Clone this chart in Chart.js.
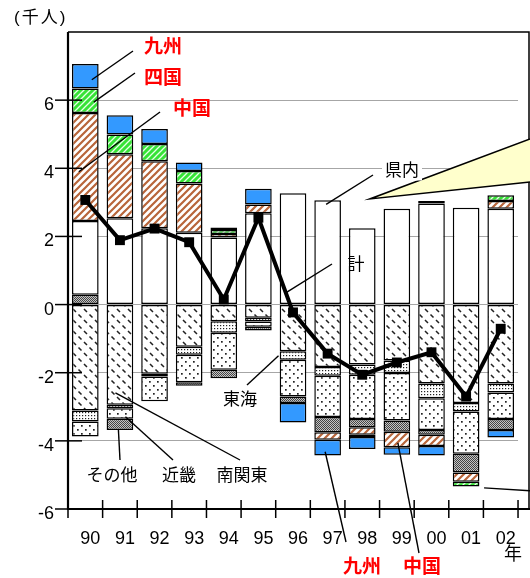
<!DOCTYPE html>
<html>
<head>
<meta charset="utf-8">
<script src="https://cdn.jsdelivr.net/npm/chart.js@4.4.1/dist/chart.umd.min.js"></script>
<style>
  html, body { margin: 0; padding: 0; background: #fff; }
  canvas { display: block; }
</style>
</head>
<body>
<canvas id="chart" width="530" height="578"></canvas>
<script>
// net migration by destination, thousands of people
const years = ['90', '91', '92', '93', '94', '95', '96', '97', '98', '99', '00', '01', '02'];
const minamiKanto = [-3.11, -2.94, -2.03, -1.24, -0.49, -0.39, -1.37, -1.83, -1.76, -1.64, -2.32, -2.89, -2.32];
const tokai = [-0.32, -0.10, -0.08, -0.23, -0.34, -0.11, -0.25, -0.26, -0.30, -0.37, -0.43, -0.25, -0.26];
const kinki = [-0.44, -0.31, -0.73, -0.81, -1.08, -0.15, -1.08, -1.21, -1.30, -1.39, -0.93, -1.24, -0.78];
const sonota = [0.29, -0.33, 0, -0.10, -0.25, -0.11, -0.19, -0.45, -0.24, -0.33, -0.14, -0.55, -0.32];
const kennai = [2.16, 2.53, 2.24, 2.11, 1.97, 2.68, 3.27, 3.06, 2.24, 2.81, 2.97, 2.84, 2.81];
const chugoku = [3.17, 1.88, 1.97, 1.44, 0.10, 0.26, 0, -0.22, -0.22, -0.46, -0.33, -0.27, 0.23];
const shikoku = [0.72, 0.58, 0.50, 0.37, 0.12, 0, 0, 0, -0.07, 0, 0.07, -0.14, 0.17];
const kyushu = [0.72, 0.57, 0.44, 0.25, 0.07, 0.46, -0.57, -0.46, -0.35, -0.22, -0.28, 0, -0.22];
const total = [3.07, 1.89, 2.23, 1.83, 0.15, 2.55, -0.23, -1.44, -2.06, -1.70, -1.40, -2.70, -0.71];
const yTicks = [-6, -4, -2, 0, 2, 4, 6];

const FONT = "'Liberation Sans', 'Noto Sans CJK JP', sans-serif";

function tile(w, h, draw) {
    const c = document.createElement('canvas');
    c.width = w;
    c.height = h;
    draw(c.getContext('2d'));
    return document.createElement('canvas').getContext('2d').createPattern(c, 'repeat');
}

const pat = {
    dash: tile(11, 11, (g) => {
        g.fillStyle = '#fff'; g.fillRect(0, 0, 11, 11);
        g.strokeStyle = '#222'; g.lineWidth = 1.5;
        g.beginPath();
        g.moveTo(1.5, 6.5); g.lineTo(4.5, 9.5);
        g.moveTo(7, 1); g.lineTo(10, 4);
        g.stroke();
    }),
    fine: tile(3, 3, (g) => {
        g.fillStyle = '#fff'; g.fillRect(0, 0, 3, 3);
        g.fillStyle = '#222'; g.fillRect(1, 1, 1.2, 1.2);
    }),
    sparse: tile(8, 8, (g) => {
        g.fillStyle = '#fff'; g.fillRect(0, 0, 8, 8);
        g.fillStyle = '#222';
        g.fillRect(1, 1, 1.7, 1.7);
        g.fillRect(5, 5, 1.7, 1.7);
    }),
    gray: tile(2, 2, (g) => {
        g.fillStyle = '#c4c4c4'; g.fillRect(0, 0, 2, 2);
        g.fillStyle = '#444'; g.fillRect(0, 0, 1, 1); g.fillRect(1, 1, 1, 1);
    }),
    brown: tile(7, 7, (g) => {
        g.fillStyle = '#fff'; g.fillRect(0, 0, 7, 7);
        g.strokeStyle = '#b8653a'; g.lineWidth = 2.2;
        g.beginPath();
        g.moveTo(-1, 8); g.lineTo(8, -1);
        g.moveTo(-1, 1); g.lineTo(1, -1);
        g.moveTo(6, 8); g.lineTo(8, 6);
        g.stroke();
    }),
    green: tile(6, 6, (g) => {
        g.fillStyle = '#36e336'; g.fillRect(0, 0, 6, 6);
        g.strokeStyle = '#e8ffe8'; g.lineWidth = 1.3;
        g.beginPath();
        g.moveTo(-1, 7); g.lineTo(7, -1);
        g.moveTo(-1, 1); g.lineTo(1, -1);
        g.moveTo(5, 7); g.lineTo(7, 5);
        g.stroke();
    }),
};

const segNames = ['南関東', '東海', '近畿', 'その他', '県内', '中国', '四国', '九州'];
const segValues = [minamiKanto, tokai, kinki, sonota, kennai, chugoku, shikoku, kyushu];
const segFills = [pat.dash, pat.fine, pat.sparse, pat.gray, '#fff', pat.brown, pat.green, '#3399ff'];

const datasets = segNames.map((name, k) => ({
    type: 'bar',
    label: name,
    data: segValues[k].map((v) => (v === 0 ? null : v)),
    backgroundColor: segFills[k],
    borderColor: '#000',
    borderWidth: 1.5,
    borderSkipped: false,
    stack: 'move',
    order: 1,
    barPercentage: 0.77,
    categoryPercentage: 1,
}));

datasets.push({
    type: 'line',
    label: '計',
    data: total,
    borderColor: '#000',
    borderWidth: 4,
    pointStyle: 'rect',
    pointRadius: 7,
    pointBackgroundColor: '#000',
    pointBorderWidth: 0,
    stack: 'total',
    order: 0,
    tension: 0,
});

function line(ctx, x1, y1, x2, y2) {
    ctx.beginPath();
    ctx.moveTo(x1, y1);
    ctx.lineTo(x2, y2);
    ctx.stroke();
}

function label(ctx, str, x, y, size, opts = {}) {
    ctx.font = (opts.bold ? 'bold ' : '') + size + 'px ' + FONT;
    ctx.textAlign = 'center';
    ctx.textBaseline = 'middle';
    if (opts.bg) {
        const w = ctx.measureText(str).width;
        ctx.fillStyle = '#fff';
        ctx.fillRect(x - w / 2 - 3, y - size / 2 - 1, w + 6, size + 2);
    }
    ctx.fillStyle = opts.color || '#000';
    ctx.fillText(str, x, y);
}

// frame, crossing ticks, callout and leader labels
const decorations = {
    id: 'decorations',
    afterDraw(chart) {
        const { ctx, chartArea: a, scales: { x, y } } = chart;
        const P = (i, dx, v) => [x.getPixelForValue(i) + dx, y.getPixelForValue(v)];
        ctx.save();
        ctx.strokeStyle = '#000';

        // plot box
        ctx.lineWidth = 1.5;
        ctx.beginPath();
        ctx.moveTo(a.left, a.top);
        ctx.lineTo(529, a.top);
        ctx.lineTo(529, a.bottom);
        ctx.stroke();
        ctx.lineWidth = 2.2;
        ctx.beginPath();
        ctx.moveTo(a.left, a.top);
        ctx.lineTo(a.left, a.bottom);
        ctx.lineTo(530, a.bottom);
        ctx.stroke();

        ctx.lineWidth = 1.5;
        yTicks.forEach((v) => {
            const py = y.getPixelForValue(v);
            line(ctx, a.left - 13, py, a.left + 14, py);
        });
        const w = (a.right - a.left) / years.length;
        for (let i = 0; i <= years.length; i++) {
            const px = a.left + i * w;
            line(ctx, px, a.bottom - 9, px, a.bottom + 9);
        }

        // yellow callout
        ctx.fillStyle = '#ffffcc';
        ctx.lineWidth = 1.5;
        ctx.beginPath();
        ctx.moveTo(530, 139);
        ctx.lineTo(...P(8, 7.5, 3.1));
        ctx.lineTo(530, 182);
        ctx.fill();
        ctx.stroke();

        // leader from the 01 bar bottom
        ctx.lineWidth = 1.5;
        const e = P(11, 18, -5.38);
        line(ctx, e[0], e[1], 530, e[1] + 3);

        // leader lines
        ctx.lineWidth = 1.4;
        const leaders = [
            [133, 51, P(0, 6.5, 6.6)],
            [135, 73, P(0, 8.5, 5.94)],
            [160, 112, P(0, -6.5, 3.9)],
            [373, 175, P(7, -1.5, 2.94)],
            [332, 264, P(6, -8.5, 0.32)],
            [247, 385, P(6, -14.5, -1.5)],
            [120, 460, P(1, -1.5, -3.68)],
            [173, 460, P(1, 5.5, -3.29)],
            [240, 460, P(1, -4.5, -2.59)],
            [346, 542, P(7, -2.5, -4.32)],
            [419, 553, P(9, 1, -4.06)],
        ];
        leaders.forEach(([x1, y1, [x2, y2]]) => line(ctx, x1, y1, x2, y2));

        // labels
        const red = { color: '#ff0000', bold: true };
        label(ctx, '九州', 163, 48, 19, red);
        label(ctx, '四国', 163, 79, 19, red);
        label(ctx, '中国', 192, 110, 19, red);
        label(ctx, '県内', 402, 171, 17, { bg: true });
        label(ctx, '計', 356, 265, 17);
        label(ctx, '東海', 240, 400, 17);
        label(ctx, 'その他', 112, 476, 17);
        label(ctx, '近畿', 179, 476, 17);
        label(ctx, '南関東', 242, 476, 17);
        label(ctx, '九州', 362, 568, 19, red);
        label(ctx, '中国', 422, 568, 19, red);
        label(ctx, '年', 513, 555, 18);

        ctx.font = '17px ' + FONT;
        ctx.letterSpacing = '2px';
        ctx.textAlign = 'left';
        ctx.textBaseline = 'middle';
        ctx.fillStyle = '#000';
        ctx.fillText('(千人)', 14, 18);
        ctx.restore();
    },
};

new Chart(document.getElementById('chart').getContext('2d'), {
    type: 'bar',
    data: { labels: years, datasets: datasets },
    options: {
        responsive: false,
        animation: false,
        layout: { padding: { top: 32, right: 4, left: 0, bottom: 0 } },
        plugins: { legend: { display: false }, tooltip: { enabled: false } },
        scales: {
            x: {
                stacked: true,
                grid: { display: false, drawTicks: false },
                border: { display: false },
                ticks: {
                    font: { family: FONT, size: 18 },
                    color: '#000',
                    padding: 19,
                    labelOffset: 5,
                    maxRotation: 0,
                    autoSkip: false,
                },
                afterFit: (s) => { s.height = 69; },
            },
            y: {
                stacked: true,
                min: -6,
                max: 8,
                grid: {
                    drawTicks: false,
                    lineWidth: 1,
                    color: (c) => (c.tick && (c.tick.value <= -6 || c.tick.value >= 8) ? 'rgba(0,0,0,0)' : '#a6a6a6'),
                },
                border: { display: false },
                ticks: {
                    stepSize: 2,
                    font: { family: FONT, size: 18 },
                    color: '#000',
                    padding: 14,
                    labelOffset: 5,
                    callback: (v) => (v === 8 ? '' : String(v)),
                },
                afterFit: (s) => { s.width = 68; },
            },
        },
    },
    plugins: [decorations],
});
</script>
</body>
</html>
